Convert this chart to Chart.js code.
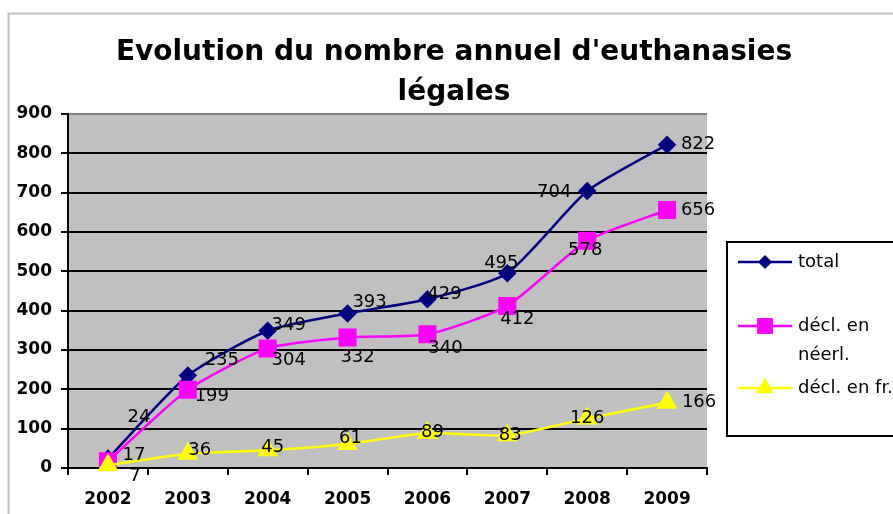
<!DOCTYPE html>
<html>
<head>
<meta charset="utf-8">
<title>Evolution du nombre annuel d'euthanasies légales</title>
<script src="https://cdn.jsdelivr.net/npm/chart.js@4.4.0/dist/chart.umd.min.js"></script>
<style>
	html, body { margin: 0; padding: 0; background: #fff; }
	#wrap { width: 893px; height: 514px; position: relative; }
</style>
</head>
<body>
<div id="wrap"><canvas id="euthanasies"></canvas></div>
<script>
// Get Elements
let ctxChart = document.getElementById("euthanasies").getContext("2d");

/* ==============================
Data
=================================*/

let years = ["2002", "2003", "2004", "2005", "2006", "2007", "2008", "2009"];

let labelTotal = "total";
let dataTotal = [24, 235, 349, 393, 429, 495, 704, 822];

let labelNl = "décl. en néerl.";
let dataNl = [17, 199, 304, 332, 340, 412, 578, 656];

let labelFr = "décl. en fr.";
let dataFr = [7, 36, 45, 61, 89, 83, 126, 166];

let titleLines = ["Evolution du nombre annuel d'euthanasies", "légales"];

// legend text, wrapped the way the original box shows it
let legendLines = [["total"], ["décl. en", "néerl."], ["décl. en fr."]];

// where each value label sits relative to its point (px), like the hand-moved Excel labels
let offTotal = [[31, -41], [34, -15], [21, -5], [22, -11], [17, -5], [-6, -10], [-33, 1], [31, 0]];
let offNl = [[26, -6], [24, 7], [21, 12], [10, 20], [18, 14], [10, 13], [-2, 10], [31, 0]];
let offFr = [[27, 11], [12, -4], [5, -3], [3, -6], [5, -1], [3, 0], [0, 0], [32, 0]];
let labelOffsets = [offTotal, offNl, offFr];

const FONT = "'DejaVu Sans', sans-serif";

// grey frame, grey plot area and the title
const backdrop = {
	id: "backdrop",
	beforeDraw(chart) {
		const c = chart.ctx;
		const a = chart.chartArea;
		c.save();
		c.fillStyle = "#fff";
		c.fillRect(0, 0, chart.width, chart.height);
		c.strokeStyle = "#c0c0c0";
		c.lineWidth = 2;
		c.strokeRect(8.5, 13.5, chart.width + 20, chart.height + 20);
		c.fillStyle = "#c0c0c0";
		c.fillRect(a.left, a.top, a.right - a.left, a.bottom - a.top);
		c.fillStyle = "#000";
		c.font = "bold 28px " + FONT;
		c.textAlign = "center";
		c.textBaseline = "alphabetic";
		titleLines.forEach((t, i) => c.fillText(t, 454, 60 + i * 40));
		c.restore();
	}
};

// value labels next to the points
const valueLabels = {
	id: "valueLabels",
	afterDatasetsDraw(chart) {
		const c = chart.ctx;
		c.save();
		c.fillStyle = "#000";
		c.font = "18px " + FONT;
		c.textAlign = "center";
		c.textBaseline = "middle";
		chart.data.datasets.forEach((ds, i) => {
			const meta = chart.getDatasetMeta(i);
			meta.data.forEach((pt, j) => {
				const off = labelOffsets[i][j];
				c.fillText(String(ds.data[j]), pt.x + off[0], pt.y + off[1]);
			});
		});
		c.restore();
	}
};

// Excel style legend box on the right
const boxLegend = {
	id: "boxLegend",
	afterDraw(chart) {
		const c = chart.ctx;
		c.save();
		c.fillStyle = "#fff";
		c.fillRect(727, 242, 200, 194);
		c.strokeStyle = "#000";
		c.lineWidth = 2;
		c.strokeRect(727, 242, 200, 194);
		const rows = [262, 326, 388];
		c.font = "18px " + FONT;
		c.textBaseline = "middle";
		c.textAlign = "left";
		chart.data.datasets.forEach((ds, i) => {
			const y = rows[i];
			c.strokeStyle = ds.borderColor;
			c.lineWidth = 2.5;
			c.beginPath();
			c.moveTo(738, y);
			c.lineTo(792, y);
			c.stroke();
			c.fillStyle = ds.pointBackgroundColor;
			c.strokeStyle = ds.pointBorderColor;
			c.lineWidth = 1;
			Chart.helpers.drawPoint(c, {
				pointStyle: ds.pointStyle,
				radius: ds.legendRadius,
				rotation: 0,
				borderWidth: 1
			}, 765, y);
			c.fillStyle = "#000";
			legendLines[i].forEach((t, k) => c.fillText(t, 798, y + k * 29));
		});
		c.restore();
	}
};

// Display chart
let evolutionChart = new Chart(ctxChart, {
	type: "line",
	data: {
		labels: years,
		datasets: [
			{
				label: labelTotal,
				data: dataTotal,
				borderColor: "#000080",
				borderWidth: 2.5,
				pointStyle: "rectRot",
				pointRadius: 7.5,
				legendRadius: 6.5,
				pointBackgroundColor: "#000080",
				pointBorderColor: "#000080",
				tension: 0.2,
				clip: false,
				order: 2
			},
			{
				label: labelNl,
				data: dataNl,
				borderColor: "#ff00ff",
				borderWidth: 2.5,
				pointStyle: "rect",
				pointRadius: 11,
				legendRadius: 10.5,
				pointBackgroundColor: "#ff00ff",
				pointBorderColor: "#ff00ff",
				tension: 0.2,
				clip: false,
				order: 1
			},
			{
				label: labelFr,
				data: dataFr,
				borderColor: "#ffff00",
				borderWidth: 2.5,
				pointStyle: "triangle",
				pointRadius: 9.5,
				legendRadius: 9.5,
				pointBackgroundColor: "#ffff00",
				pointBorderColor: "#ffff00",
				tension: 0.2,
				clip: false,
				order: 0
			}
		]
	},
	options: {
		responsive: true,
		maintainAspectRatio: false,
		animation: false,
		layout: {
			padding: { top: 114, right: 186, bottom: 0, left: 0 }
		},
		plugins: {
			legend: { display: false },
			title: { display: false },
			tooltip: { enabled: false }
		},
		scales: {
			x: {
				offset: true,
				afterFit(scale) {
					scale.height = 46;
				},
				grid: {
					offset: true,
					drawOnChartArea: false,
					color: "#000",
					lineWidth: 2,
					tickLength: 7
				},
				border: { color: "#000", width: 2 },
				ticks: {
					color: "#000",
					padding: 14,
					maxRotation: 0,
					font: { family: FONT, size: 17, weight: "bold", lineHeight: 1.2 }
				}
			},
			y: {
				min: 0,
				max: 900,
				afterFit(scale) {
					scale.width = 68;
				},
				grid: {
					color: c => (c.tick && c.tick.value === 900 ? "#808080" : "#000"),
					tickColor: "#000",
					lineWidth: 2,
					tickLength: 7
				},
				border: { color: "#000", width: 2 },
				ticks: {
					stepSize: 100,
					color: "#000",
					padding: 9,
					font: { family: FONT, size: 17, weight: "bold", lineHeight: 1.2 }
				}
			}
		}
	},
	plugins: [backdrop, valueLabels, boxLegend]
});
</script>
</body>
</html>
